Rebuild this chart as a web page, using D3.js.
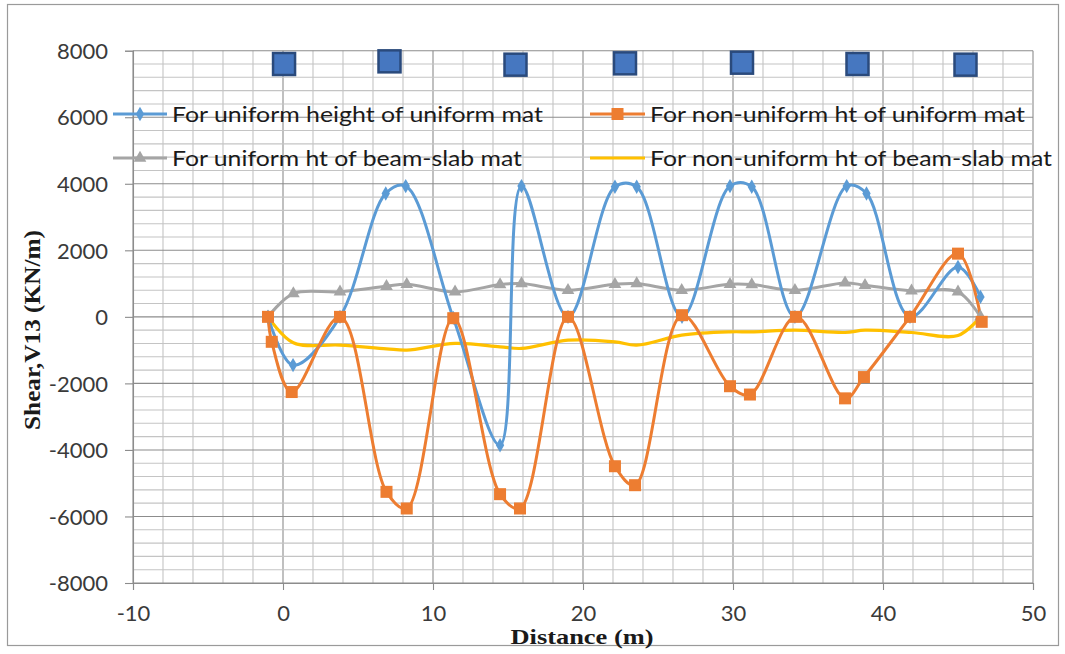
<!DOCTYPE html>
<html>
<head>
<meta charset="utf-8">
<script src="https://cdn.jsdelivr.net/npm/d3@7/dist/d3.min.js"></script>
<style>
  html, body { margin: 0; padding: 0; background: #fff; }
  svg { display: block; }
</style>
</head>
<body>
<svg id="chart" width="1065" height="654"></svg>
<script>
// Shear force V13 along the mat, four cases
const blueDist  = [-1, 0.67, 3.8, 6.85, 8.18, 11.35, 14.47, 15.9, 19.0, 22.13, 23.58, 26.6, 29.8, 31.25, 34.13, 37.58, 38.9, 41.8, 45.0, 46.5];
const blueVals  = [0, -1450, 0, 3710, 3930, -30, -3860, 3930, 0, 3910, 3910, 0, 3930, 3910, 0, 3930, 3710, 0, 1500, 600];

const orangeDist = [-1, -0.75, 0.58, 3.8, 6.9, 8.25, 11.35, 14.47, 15.8, 19.0, 22.13, 23.47, 26.6, 29.8, 31.13, 34.2, 37.47, 38.73, 41.8, 45.0, 46.58];
const orangeVals = [0, -750, -2260, 0, -5260, -5760, -40, -5330, -5760, 0, -4490, -5060, 50, -2085, -2335, 0, -2450, -1810, 0, 1900, -150];

const grayDist = [-1, 0.69, 3.8, 6.9, 8.25, 11.47, 14.47, 15.9, 19.0, 22.13, 23.58, 26.58, 29.8, 31.25, 34.13, 37.47, 38.8, 41.9, 45.0, 46.5];
const grayVals = [0, 700, 750, 920, 980, 750, 970, 1000, 800, 980, 1000, 800, 980, 970, 800, 1020, 950, 780, 750, 0];

const yellowDist = [-1, 0.69, 3.8, 6.9, 8.25, 11.47, 14.47, 15.9, 19.0, 22.13, 23.58, 26.58, 29.8, 31.25, 34.13, 37.47, 38.8, 41.9, 45.0, 46.5];
const yellowVals = [0, -780, -850, -960, -1000, -800, -900, -950, -700, -750, -850, -550, -450, -450, -400, -470, -400, -470, -560, 0];

// column positions marked along the top
const colDist = [0.07, 7.1, 15.5, 22.8, 30.6, 38.3, 45.5];
const colVals = [7600, 7680, 7580, 7620, 7640, 7600, 7580];

const xTicks = [-10, 0, 10, 20, 30, 40, 50];
const yTicks = [-8000, -6000, -4000, -2000, 0, 2000, 4000, 6000, 8000];

const seriesNames = [
  "For uniform height of uniform mat",
  "For non-uniform ht of uniform mat",
  "For uniform ht of beam-slab mat",
  "For non-uniform ht of beam-slab mat"
];

const svg = d3.select("#chart");
const x = d3.scaleLinear().domain([-10, 50]).range([133, 1033]);
const y = d3.scaleLinear().domain([-8000, 8000]).range([583, 50.7]);

// outer frame
svg.append("rect").attr("x", 7.5).attr("y", 4.5).attr("width", 1051).attr("height", 641)
  .attr("fill", "#fff").attr("stroke", "#9a9a9a").attr("stroke-width", 1.2);

// grid: minor then major
const grid = svg.append("g");
grid.selectAll("line.vmin").data(d3.range(-10, 50.01, 2)).join("line")
  .attr("x1", d => x(d)).attr("x2", d => x(d)).attr("y1", y(8000)).attr("y2", y(-8000))
  .attr("stroke", d => (Math.abs(d % 10) < 1e-6 ? "#8c8c8c" : "#c4c4c4")).attr("stroke-width", 1.1);
grid.selectAll("line.hmin").data(d3.range(-8000, 8000.01, 400)).join("line")
  .attr("y1", d => y(d)).attr("y2", d => y(d)).attr("x1", x(-10)).attr("x2", x(50))
  .attr("stroke", d => (Math.abs(d % 2000) < 1e-6 ? "#8c8c8c" : "#c4c4c4")).attr("stroke-width", 1.1);

// axes
const plain = d => String(d);
const xAxis = svg.append("g").attr("transform", `translate(0,${y(-8000)})`)
  .call(d3.axisBottom(x).tickValues(xTicks).tickSize(7).tickPadding(15).tickFormat(plain));
const yAxis = svg.append("g").attr("transform", `translate(${x(-10)},0)`)
  .call(d3.axisLeft(y).tickValues(yTicks).tickSize(8).tickPadding(17).tickFormat(plain));
[xAxis, yAxis].forEach(a => {
  a.select(".domain").attr("stroke", "#8c8c8c").attr("stroke-width", 1.1);
  a.selectAll(".tick line").attr("stroke", "#8c8c8c").attr("stroke-width", 1.1);
  a.selectAll(".tick text").attr("font-family", "Lato, 'Open Sans', sans-serif")
    .attr("font-size", 22).attr("fill", "#3a3a3a");
});
yAxis.selectAll(".tick text").attr("dy", "0.35em");
xAxis.selectAll(".tick text").attr("dy", "0.71em");

// axis titles
svg.append("text").attr("x", 582).attr("y", 644).attr("text-anchor", "middle")
  .attr("font-family", "'Liberation Serif', 'Times New Roman', serif").attr("font-weight", "bold")
  .attr("font-size", 22).attr("fill", "#1a1a1a")
  .attr("textLength", 143).attr("lengthAdjust", "spacingAndGlyphs").text("Distance (m)");
svg.append("text").attr("transform", "translate(40,330) rotate(-90)").attr("text-anchor", "middle")
  .attr("font-family", "'Liberation Serif', 'Times New Roman', serif").attr("font-weight", "bold")
  .attr("font-size", 23).attr("fill", "#1a1a1a")
  .attr("textLength", 200).attr("lengthAdjust", "spacingAndGlyphs").text("Shear,V13 (KN/m)");

const smooth = d3.line().curve(d3.curveCatmullRom.alpha(0.5));
const pts = (ds, vs) => ds.map((d, i) => [x(d), y(vs[i])]);

const colors = { blue: "#5b9bd5", orange: "#ed7d31", gray: "#a5a5a5", yellow: "#ffc000" };

// lines
const plot = svg.append("g");
plot.append("path").attr("d", smooth(pts(grayDist, grayVals))).attr("fill", "none")
  .attr("stroke", colors.gray).attr("stroke-width", 3);
plot.append("path").attr("d", smooth(pts(yellowDist, yellowVals))).attr("fill", "none")
  .attr("stroke", colors.yellow).attr("stroke-width", 3.2);
plot.append("path").attr("d", smooth(pts(blueDist, blueVals))).attr("fill", "none")
  .attr("stroke", colors.blue).attr("stroke-width", 3);
plot.append("path").attr("d", smooth(pts(orangeDist, orangeVals))).attr("fill", "none")
  .attr("stroke", colors.orange).attr("stroke-width", 3);

// markers
const sym = (type, size) => d3.symbol().type(type).size(size)();
plot.selectAll("path.tri").data(pts(grayDist, grayVals)).join("path")
  .attr("transform", d => `translate(${d[0]},${d[1]})`).attr("d", sym(d3.symbolTriangle, 70))
  .attr("fill", colors.gray);
plot.selectAll("path.dia").data(pts(blueDist, blueVals)).join("path")
  .attr("transform", d => `translate(${d[0]},${d[1]})`).attr("d", sym(d3.symbolDiamond, 60))
  .attr("fill", colors.blue);
plot.selectAll("rect.sq").data(pts(orangeDist, orangeVals)).join("rect")
  .attr("x", d => d[0] - 6).attr("y", d => d[1] - 6).attr("width", 12).attr("height", 12)
  .attr("fill", colors.orange);

// column squares along the top
plot.selectAll("rect.col").data(pts(colDist, colVals)).join("rect")
  .attr("x", d => d[0] - 11).attr("y", d => d[1] - 11).attr("width", 22).attr("height", 22)
  .attr("fill", "#4677c0").attr("stroke", "#2a4a7c").attr("stroke-width", 2.5);

// legend
const legend = svg.append("g").attr("font-family", "Lato, 'Open Sans', sans-serif").attr("font-size", 22).attr("fill", "#1a1a1a");
const legendItems = [
  { name: seriesNames[0], color: colors.blue, mark: "dia", lx: 113, ly: 114, tx: 172, w: 371 },
  { name: seriesNames[1], color: colors.orange, mark: "sq", lx: 590, ly: 114, tx: 650, w: 375 },
  { name: seriesNames[2], color: colors.gray, mark: "tri", lx: 113, ly: 158, tx: 172, w: 350 },
  { name: seriesNames[3], color: colors.yellow, mark: "none", lx: 590, ly: 158, tx: 650, w: 402 }
];
legendItems.forEach(it => {
  const g = legend.append("g");
  g.append("line").attr("x1", it.lx).attr("x2", it.tx - 5).attr("y1", it.ly).attr("y2", it.ly)
    .attr("stroke", it.color).attr("stroke-width", 3);
  const mx = (it.lx + it.tx - 5) / 2;
  if (it.mark === "dia") g.append("path").attr("transform", `translate(${mx},${it.ly})`).attr("d", sym(d3.symbolDiamond, 60)).attr("fill", it.color);
  if (it.mark === "tri") g.append("path").attr("transform", `translate(${mx},${it.ly})`).attr("d", sym(d3.symbolTriangle, 70)).attr("fill", it.color);
  if (it.mark === "sq") g.append("rect").attr("x", mx - 6).attr("y", it.ly - 6).attr("width", 12).attr("height", 12).attr("fill", it.color);
  g.append("text").attr("x", it.tx).attr("y", it.ly).attr("dy", "0.35em")
    .attr("textLength", it.w).attr("lengthAdjust", "spacingAndGlyphs").text(it.name);
});
</script>
</body>
</html>
